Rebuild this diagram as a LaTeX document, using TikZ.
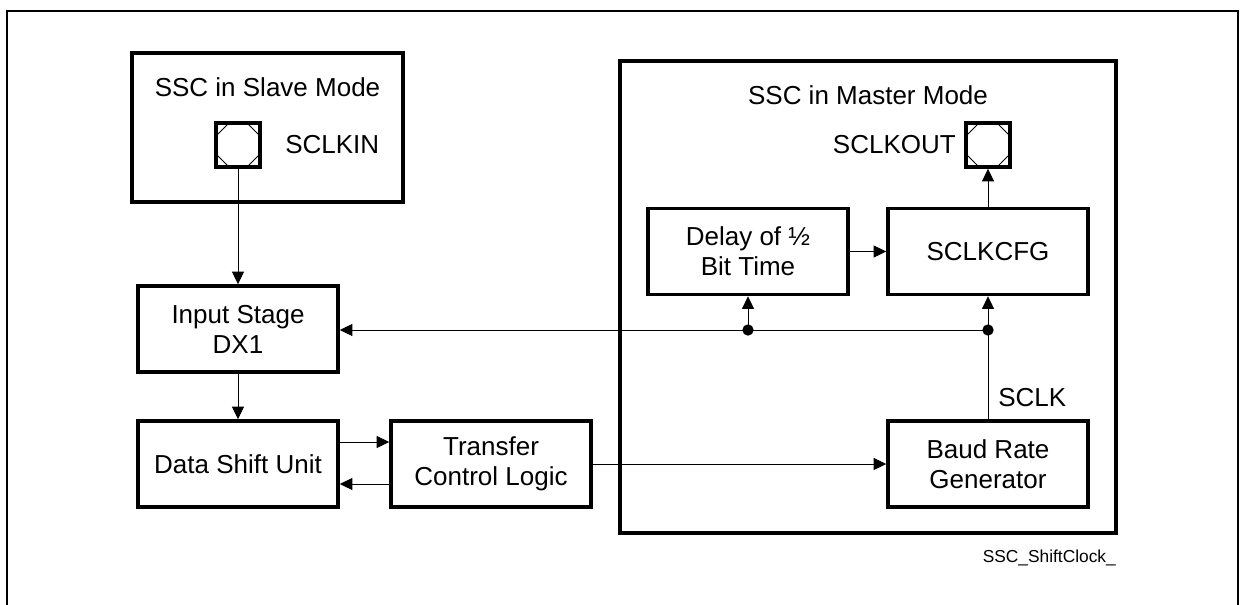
\documentclass[tikz,border=0pt]{standalone}
\usepackage{fontspec}
\setmainfont{Liberation Sans}
\usetikzlibrary{arrows.meta,positioning,calc}

\begin{document}
\begin{tikzpicture}[
      x=0.75pt, y=-0.75pt,
      every node/.style={font=\fontsize{19.5}{22.5}\selectfont},
      box/.style={draw,line width=2.6pt,align=center,
                  minimum width=150pt,minimum height=64.5pt,inner sep=2pt},
      modebox/.style={draw,line width=2.4pt,inner sep=0pt},
      padbox/.style={draw,line width=2.6pt,minimum size=33pt,inner sep=0pt,
        path picture={
          \draw[line width=0.75pt]
            ($(path picture bounding box.north west)+(0,13)$) -- ($(path picture bounding box.north west)+(13,0)$)
            ($(path picture bounding box.north east)+(-13,0)$) -- ($(path picture bounding box.north east)+(0,13)$)
            ($(path picture bounding box.south east)+(0,-13)$) -- ($(path picture bounding box.south east)+(-13,0)$)
            ($(path picture bounding box.south west)+(13,0)$) -- ($(path picture bounding box.south west)+(0,-13)$);
        }},
      arr/.style={-{Triangle[length=9.5pt,width=9pt]},line width=0.75pt},
      dot/.style={circle,fill,inner sep=0pt,minimum size=8.5pt},
    ]
      \useasboundingbox (0,0) rectangle (1241,604);
      % outer frame, open at the bottom
      \draw[line width=1.8pt] (7,625) -- (7,11) -- (1238,11) -- (1238,625);

      % the two modes
      \node[modebox,minimum width=203.25pt,minimum height=111.75pt] (slave)  at (267.5,127.5) {};
      \node[modebox,minimum width=372pt,minimum height=354pt]       (master) at (868,297) {};
      \node (slavetitle)  at (267.5,87) {SSC in Slave Mode};
      \node (mastertitle) at (868,95)   {SSC in Master Mode};

      % pads
      \node[padbox] (spad) at (238,145) {};
      \node[padbox] (mpad) at (988,145) {};
      \node[anchor=west,inner sep=0pt] (sclkin)  at (285,145) {SCLKIN};
      \node[anchor=east,inner sep=0pt] (sclkout) at (956,145) {SCLKOUT};

      % blocks
      \node[box] (input)     at (238,329)   {Input Stage\\DX1};
      \node[box] (datashift) at (238,464)   {Data Shift Unit};
      \node[box] (transfer)  at (491,464)   {Transfer\\Control Logic};
      \node[box] (delay)     at (748,251.5) {Delay of ½\\Bit Time};
      \node[box] (sclkcfg)   at (988,251.5) {SCLKCFG};
      \node[box] (baud)      at (988,464)   {Baud Rate\\Generator};
      \node[anchor=west,inner sep=0pt] (sclk) at (998,398) {SCLK};

      \coordinate (jdelay) at (748,330);
      \coordinate (jcfg)   at (988,330);
      \coordinate (tx) at (0,442);
      \coordinate (rx) at (0,484);

      % connections
      \draw[arr] (spad) -- (input);
      \draw[arr] (input) -- (datashift);
      \draw[arr] (datashift.east |- tx) -- (transfer.west |- tx);
      \draw[arr] (transfer.west |- rx) -- (datashift.east |- rx);
      \draw[arr] (transfer) -- (baud);
      \draw[arr] (baud) -- (sclkcfg);
      \draw[arr] (jcfg) -- (input.east |- jcfg);
      \draw[arr] (jdelay) -- (delay);
      \draw[arr] (delay) -- (sclkcfg);
      \draw[arr] (sclkcfg) -- (mpad);
      \node[dot] at (jdelay) {};
      \node[dot] at (jcfg) {};

      \node[anchor=east,inner sep=0pt,font=\fontsize{13}{15}\selectfont] (figid) at (1116,558) {SSC\_ShiftClock\_};
    \end{tikzpicture}
\end{document}
